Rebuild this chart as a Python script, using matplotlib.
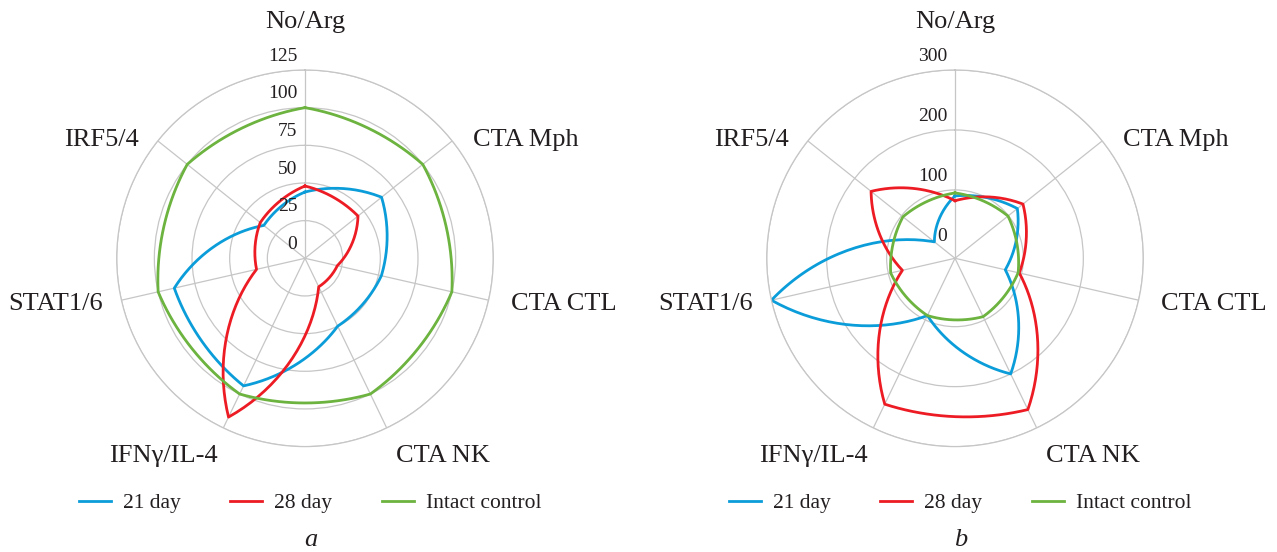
import numpy as np
import matplotlib
matplotlib.use("Agg")
import matplotlib.pyplot as plt

plt.rcParams['font.family'] = ['Liberation Serif', 'DejaVu Serif']

categories = ["No/Arg", "CTA Mph", "CTA CTL", "CTA NK", "IFNγ/IL-4", "STAT1/6", "IRF5/4"]
series_names = ["21 day", "28 day", "Intact control"]

# panel a
a_day21 = [44, 65, 52, 50, 94, 89, 35]
a_day28 = [48, 45, 22, 21, 117, 33, 38]
a_control = [100, 100, 100, 100, 100, 100, 100]
a_ticks = [0, 25, 50, 75, 100, 125]

# panel b
b_day21 = [90, 119, 72, 200, 92, 300, 30]
b_day28 = [82, 131, 96, 266, 256, 76, 165]
b_control = [95, 99, 94, 94, 92, 96, 97]
b_ticks = [0, 100, 200, 300]

colors = ["#0b9dd9", "#ed1c24", "#6cb33f"]
grid_color = "#c6c6c6"
text_color = "#231f20"

# offsets (points) of the category labels from the spoke ends
label_offsets = [((0, 34.5), 'center'), ((15, 0.7), 'left'), ((16.5, -3), 'left'),
                 ((6.5, -20), 'left'), ((-4.3, -20), 'right'), ((-13.7, -3), 'right'),
                 ((-13.7, 0.7), 'right')]


def curve(values, r0, blend=0.6, steps=40):
    # rounded segments: mix of a straight chord and a polar (spiral) arc
    n = len(values)
    th = np.linspace(0, 2 * np.pi, n, endpoint=False)
    th = np.append(th, 2 * np.pi)
    v = np.append(np.asarray(values, float), values[0])
    xs_all, ys_all = [], []
    t = np.linspace(0, 1, steps, endpoint=False)
    for i in range(n):
        rho1, rho2 = v[i] - r0, v[i + 1] - r0
        ts = th[i] + t * (th[i + 1] - th[i])
        rs = rho1 + t * (rho2 - rho1)
        x1, y1 = rho1 * np.cos(th[i]), rho1 * np.sin(th[i])
        x2, y2 = rho2 * np.cos(th[i + 1]), rho2 * np.sin(th[i + 1])
        xc, yc = x1 + t * (x2 - x1), y1 + t * (y2 - y1)
        xs_all.append(blend * rs * np.cos(ts) + (1 - blend) * xc)
        ys_all.append(blend * rs * np.sin(ts) + (1 - blend) * yc)
    x = np.concatenate(xs_all + [[xs_all[0][0]]])
    y = np.concatenate(ys_all + [[ys_all[0][0]]])
    ang = np.unwrap(np.arctan2(y, x))
    return ang, np.hypot(x, y) + r0


fig = plt.figure(figsize=(12.77, 5.52), dpi=100)


def draw_panel(cx, data, ticks, rmin, letter):
    W, H = 1277.0, 552.0
    R = 188.3
    cy = 258.3
    ax = fig.add_axes([(cx - R) / W, (H - cy - R) / H, 2 * R / W, 2 * R / H], projection='polar')
    ax.set_theta_zero_location('N')
    ax.set_theta_direction(-1)
    angles = np.linspace(0, 2 * np.pi, len(categories), endpoint=False)
    ax.set_xticks(angles)
    ax.set_xticklabels([])
    ax.set_ylim(rmin, ticks[-1])
    ax.set_yticks([t for t in ticks if t > 0])
    ax.set_yticklabels([])
    ax.grid(color=grid_color, lw=0.9)
    ax.spines['polar'].set_color(grid_color)
    ax.spines['polar'].set_linewidth(0.9)

    lines = []
    for vals, c, name in zip(data, colors, series_names):
        th, r = curve(vals, rmin)
        ln, = ax.plot(th, r, color=c, lw=2.0, label=name)
        lines.append(ln)

    for t in ticks:
        ax.annotate(str(t), xy=(0, t), xytext=(-5.5, 10), textcoords='offset points',
                    ha='right', va='center', fontsize=14, color=text_color,
                    annotation_clip=False)

    for ang, cat, (off, ha) in zip(angles, categories, label_offsets):
        ax.annotate(cat, xy=(ang, ticks[-1]), xytext=off, textcoords='offset points',
                    ha=ha, va='center', fontsize=19, color=text_color,
                    annotation_clip=False)

    fig.legend(handles=lines, loc='center', bbox_to_anchor=((cx + 5) / W, 1 - 503 / H),
               ncol=3, frameon=False, fontsize=15.5, handlelength=1.5,
               handletextpad=0.55, columnspacing=2.3, labelcolor=text_color)
    fig.text((cx + 6) / W, 1 - 540 / H, letter, style='italic', fontsize=19,
             ha='center', va='center', color=text_color)


draw_panel(305, [a_day21, a_day28, a_control], a_ticks, 0, "a")
draw_panel(955, [b_day21, b_day28, b_control], b_ticks, -14, "b")

fig.savefig("out.png", dpi=100)
